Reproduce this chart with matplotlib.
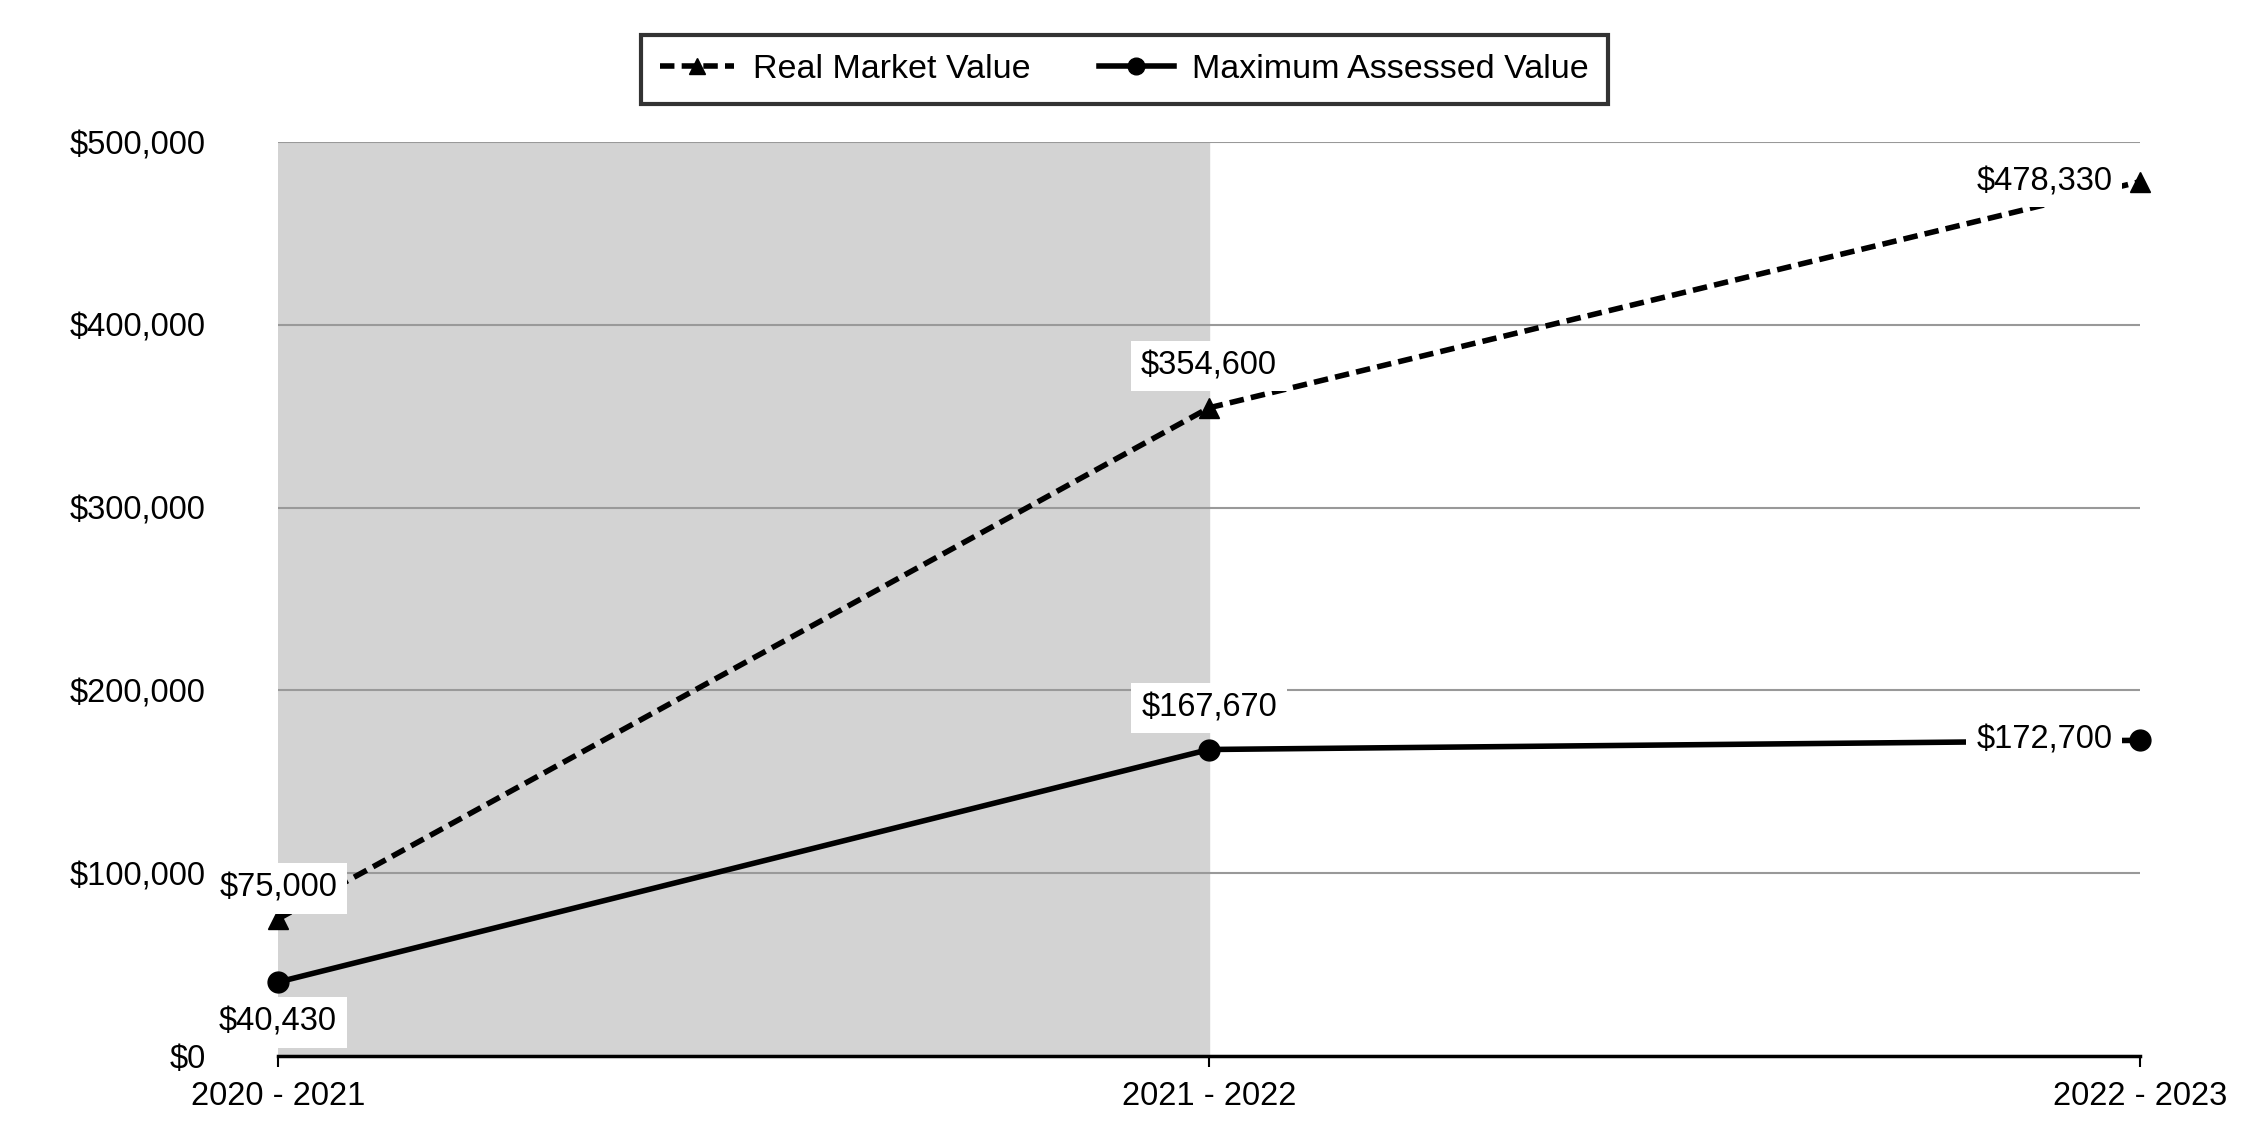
import matplotlib.pyplot as plt
from matplotlib.ticker import FuncFormatter

plt.rcParams['font.family'] = ['Liberation Sans', 'DejaVu Sans']

# data
years = ['2020 - 2021', '2021 - 2022', '2022 - 2023']
real_market = [75000, 354600, 478330]
max_assessed = [40430, 167670, 172700]
yticks = [0, 100000, 200000, 300000, 400000, 500000]

x = list(range(len(years)))

fig = plt.figure(figsize=(22.5, 11.4), dpi=100)
ax = fig.add_axes([0.1236, 0.0737, 0.8275, 0.8017])

# shaded first period
ax.axvspan(x[0], x[1], color='#d3d3d3', zorder=0)

ax.plot(x, real_market, color='black', lw=4, ls=(0, (2.6, 1.3)),
        marker='^', ms=15, clip_on=False, zorder=4, label='Real Market Value')
ax.plot(x, max_assessed, color='black', lw=4, ls='-',
        marker='o', ms=15, clip_on=False, zorder=4, label='Maximum Assessed Value')

fs = 23.5
box = dict(boxstyle='square,pad=0.3', fc='white', ec='none')


def fmt(v):
    return '${:,.0f}'.format(v)


# data labels
rm_off = [(0, 22), (0, 30), (-20, 0)]
ma_off = [(0, -29), (0, 30), (-20, 0)]
for i in x:
    dx, dy = rm_off[i]
    ha = 'right' if dx < 0 else 'center'
    ax.annotate(fmt(real_market[i]), (x[i], real_market[i]), xytext=(dx, dy),
                textcoords='offset points', ha=ha, va='center', fontsize=fs,
                bbox=box, zorder=5, annotation_clip=False)
    dx, dy = ma_off[i]
    ha = 'right' if dx < 0 else 'center'
    ax.annotate(fmt(max_assessed[i]), (x[i], max_assessed[i]), xytext=(dx, dy),
                textcoords='offset points', ha=ha, va='center', fontsize=fs,
                bbox=box, zorder=5, annotation_clip=False)

ax.set_xlim(x[0], x[-1])
ax.set_ylim(0, 500000)
ax.set_xticks(x)
ax.set_xticklabels(years, fontsize=fs)
ax.set_yticks(yticks)
ax.yaxis.set_major_formatter(FuncFormatter(lambda v, p: fmt(v)))
ax.tick_params(axis='y', length=0, pad=52, labelsize=fs)
ax.tick_params(axis='x', length=8, width=1.5, pad=10, direction='out')

ax.grid(axis='y', color='#999999', lw=1.5, zorder=1)
ax.set_axisbelow(True)
for s in ['left', 'right', 'top']:
    ax.spines[s].set_visible(False)
ax.spines['bottom'].set_linewidth(2.5)
ax.spines['bottom'].set_zorder(6)

leg = fig.legend(loc='center', bbox_to_anchor=(0.4997, 0.939), ncol=2,
                 fontsize=fs + 1, frameon=True, fancybox=False, edgecolor='black',
                 handlelength=2.2, columnspacing=2.0, borderpad=0.55,
                 handletextpad=0.55, borderaxespad=0)
leg.get_frame().set_linewidth(3)
for h in leg.legend_handles:
    h.set_markersize(12)

fig.savefig('out.png', dpi=100, facecolor='white')
